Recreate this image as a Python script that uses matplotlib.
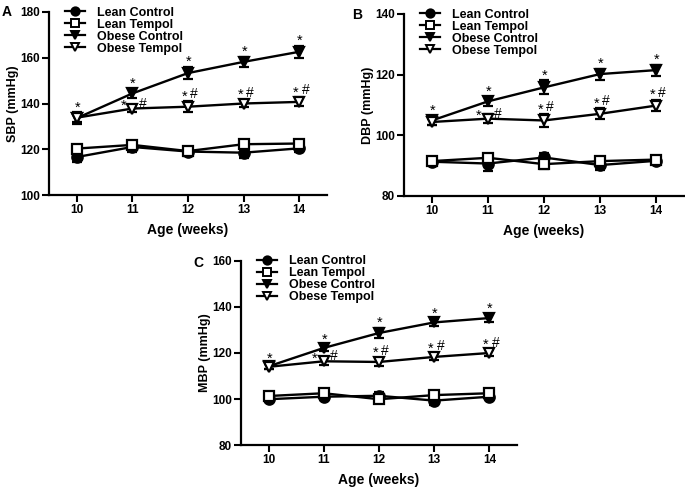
import matplotlib
matplotlib.use("Agg")
import matplotlib.pyplot as plt
from matplotlib.lines import Line2D

plt.rcParams['font.family'] = ['Liberation Sans', 'DejaVu Sans']
plt.rcParams['font.weight'] = 'bold'

weeks = [10, 11, 12, 13, 14]
series_names = ["Lean Control", "Lean Tempol", "Obese Control", "Obese Tempol"]

# SBP
sbp_lc = [116.6, 121.0, 119.0, 118.5, 120.4]
sbp_lc_err = [2.0, 2.0, 2.0, 2.3, 1.5]
sbp_lt = [120.3, 121.9, 119.2, 122.2, 122.5]
sbp_lt_err = [1.5, 1.5, 1.5, 1.5, 1.5]
sbp_oc = [133.6, 144.4, 153.3, 158.2, 162.6]
sbp_oc_err = [2.5, 2.0, 2.7, 2.3, 2.5]
sbp_ot = [133.8, 137.8, 138.6, 140.0, 140.7]
sbp_ot_err = [2.0, 1.5, 2.3, 1.5, 2.0]

# DBP
dbp_lc = [91.3, 90.7, 92.7, 90.2, 91.6]
dbp_lc_err = [1.0, 2.3, 1.5, 1.5, 1.0]
dbp_lt = [91.5, 92.6, 90.5, 91.5, 92.0]
dbp_lt_err = [1.2, 1.2, 1.5, 1.2, 1.2]
dbp_oc = [104.9, 111.2, 115.8, 120.2, 121.5]
dbp_oc_err = [1.5, 1.5, 2.3, 1.8, 1.8]
dbp_ot = [104.4, 105.5, 104.9, 107.1, 109.8]
dbp_ot_err = [1.0, 1.5, 2.0, 1.8, 1.8]

# MBP
mbp_lc = [99.9, 101.0, 101.4, 99.3, 101.0]
mbp_lc_err = [1.2, 1.5, 1.5, 1.7, 1.0]
mbp_lt = [101.3, 102.5, 99.9, 101.7, 102.5]
mbp_lt_err = [1.0, 1.0, 1.0, 1.0, 1.0]
mbp_oc = [114.2, 122.2, 128.7, 133.3, 135.2]
mbp_oc_err = [1.2, 1.5, 2.3, 1.5, 1.8]
mbp_ot = [114.0, 116.4, 116.1, 118.3, 120.0]
mbp_ot_err = [1.0, 1.5, 1.8, 1.5, 1.5]

# significance labels
oc_sig = ["*", "*", "*", "*", "*"]
ot_sig = ["", "*#", "*#", "*#", "*#"]

W, H = 685, 488
fig = plt.figure(figsize=(W / 100, H / 100), dpi=100)

def px_axes(left, right, top, bottom):
    return fig.add_axes([left / W, 1 - bottom / H, (right - left) / W, (bottom - top) / H])

markers = ['o', 's', 'v', 'v']
faces = ['black', 'white', 'black', 'white']

def panel(ax, data, ylim, yticks, ylabel, letter, letter_px):
    for i, (vals, errs) in enumerate(data):
        ax.errorbar(weeks, vals, yerr=errs, color='black', lw=1.7,
                    marker=markers[i], mfc=faces[i], mec='black', mew=1.6,
                    ms=7.5, capsize=3.8, elinewidth=1.6, capthick=1.6,
                    zorder=3 + i)
    handles = [Line2D([0], [0], color='black', lw=1.6, marker=markers[i],
                      mfc=faces[i], mec='black', mew=1.4, ms=6)
               for i in range(4)]
    oc_vals, oc_errs = data[2]
    ot_vals, ot_errs = data[3]
    for j, x in enumerate(weeks):
        ax.annotate(oc_sig[j], (x, oc_vals[j] + oc_errs[j]), xytext=(0.5, -1.5),
                    textcoords='offset points', ha='center', va='bottom',
                    fontsize=10.5, fontweight='normal')
        if ot_sig[j]:
            if j == 1:
                ax.annotate("*", (x, ot_vals[j]), xytext=(-6.5, -3),
                            textcoords='offset points', ha='center', va='bottom',
                            fontsize=10.5, fontweight='normal')
                ax.annotate("#", (x, ot_vals[j]), xytext=(4.5, -1.5),
                            textcoords='offset points', ha='left', va='bottom',
                            fontsize=10, fontweight='normal')
            else:
                ax.annotate("*", (x, ot_vals[j] + ot_errs[j]), xytext=(-2.5, -1.5),
                            textcoords='offset points', ha='center', va='bottom',
                            fontsize=10.5, fontweight='normal')
                ax.annotate("#", (x, ot_vals[j] + ot_errs[j]), xytext=(4.5, 0),
                            textcoords='offset points', ha='center', va='bottom',
                            fontsize=10, fontweight='normal')
    ax.set_xlim(9.5, 14.5)
    ax.set_ylim(*ylim)
    ax.set_yticks(yticks)
    ax.set_xticks(weeks)
    for s in ['top', 'right']:
        ax.spines[s].set_visible(False)
    for s in ['left', 'bottom']:
        ax.spines[s].set_linewidth(1.6)
    ax.tick_params(width=1.5, length=5, labelsize=8.5, pad=1.5)
    for lab in ax.get_xticklabels() + ax.get_yticklabels():
        lab.set_fontweight('bold')
    ax.set_xlabel("Age (weeks)", fontsize=10, fontweight='bold', labelpad=5)
    ax.set_ylabel(ylabel, fontsize=9, fontweight='bold', labelpad=1)
    fig.text(letter_px[0] / W, 1 - letter_px[1] / H, letter, fontsize=10,
             fontweight='bold', ha='left', va='center')
    leg = ax.legend(handles, series_names, loc='upper left', bbox_to_anchor=(0.058, 1.03),
                    frameon=False, fontsize=9, handlelength=1.6, handletextpad=0.95,
                    labelspacing=0.0, borderaxespad=0.0, borderpad=0.0)
    for t in leg.get_texts():
        t.set_fontweight('bold')

axA = px_axes(49, 327, 12, 195)
panel(axA, [(sbp_lc, sbp_lc_err), (sbp_lt, sbp_lt_err), (sbp_oc, sbp_oc_err), (sbp_ot, sbp_ot_err)],
      (100, 180), [100, 120, 140, 160, 180], "SBP (mmHg)", "A", (2, 12))

axB = px_axes(404, 684, 14, 196)
panel(axB, [(dbp_lc, dbp_lc_err), (dbp_lt, dbp_lt_err), (dbp_oc, dbp_oc_err), (dbp_ot, dbp_ot_err)],
      (80, 140), [80, 100, 120, 140], "DBP (mmHg)", "B", (352, 15))

axC = px_axes(241, 517, 261, 445)
panel(axC, [(mbp_lc, mbp_lc_err), (mbp_lt, mbp_lt_err), (mbp_oc, mbp_oc_err), (mbp_ot, mbp_ot_err)],
      (80, 160), [80, 100, 120, 140, 160], "MBP (mmHg)", "C", (193, 263))

fig.savefig("out.png", dpi=100)
